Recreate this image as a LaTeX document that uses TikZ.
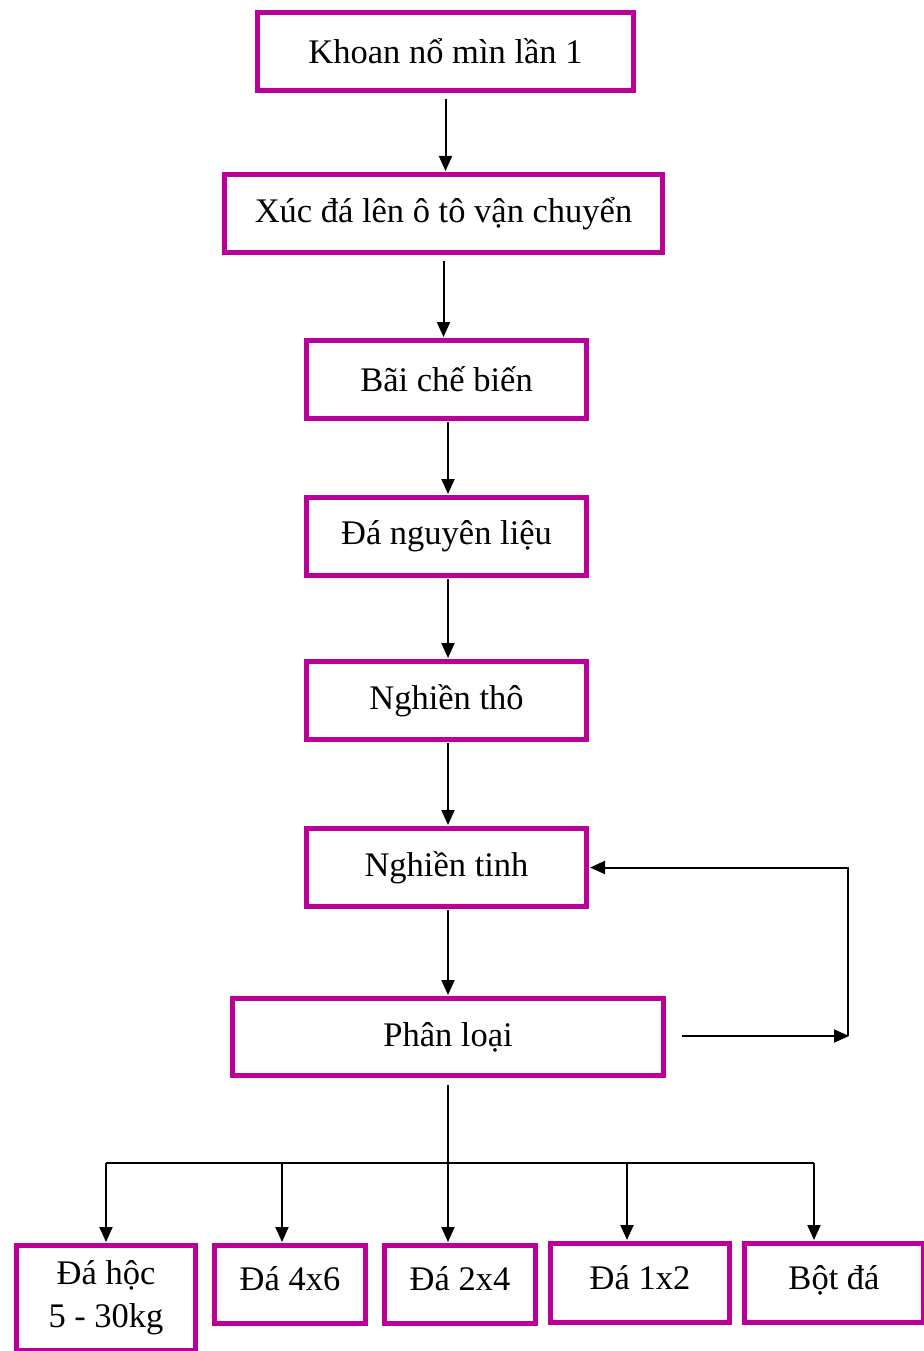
\documentclass[tikz,border=0pt]{standalone}
\usepackage{fontspec}
\setmainfont{Liberation Serif}
\usetikzlibrary{arrows.meta}
\definecolor{boxpurple}{RGB}{187,0,153}
\tikzstyle{stage}=[draw=boxpurple,line width=5pt,inner sep=0pt,align=center,font=\fontsize{34.5}{43}\selectfont]
\tikzstyle{flow}=[line width=2pt,shorten >=1pt,-{Triangle[length=15pt,width=13pt]}]

\begin{document}
\begin{tikzpicture}[x=1pt,y=-1pt]
    \useasboundingbox (0,0) rectangle (923,1351);
    \tikzstyle{nstage}=[stage,minimum width=280pt,minimum height=78pt]
    \tikzstyle{pstage}=[stage,minimum width=151pt,minimum height=78pt,text depth=12pt]

    \node[stage,minimum width=376pt,minimum height=78pt] (s0) at (445.5,51.5) {Khoan nổ mìn lần 1};
    \node[stage,minimum width=438pt,minimum height=78pt] (s1) at (443.5,213.5) {Xúc đá lên ô tô vận chuyển};
    \node[nstage] (s2) at (446.5,379.5) {Bãi chế biến};
    \node[nstage] (s3) at (446.5,536.5) {Đá nguyên liệu};
    \node[nstage] (s4) at (446.5,700.5) {Nghiền thô};
    \node[nstage] (s5) at (446.5,867.5) {Nghiền tinh};
    \node[stage,minimum width=431pt,minimum height=77pt] (s6) at (448,1037) {Phân loại};

    \node[stage,minimum width=179pt,minimum height=105pt] (p0) at (106,1298) {Đá hộc\\5 - 30kg};
    \node[pstage] (p1) at (290,1284.5) {Đá 4x6};
    \node[pstage] (p2) at (460,1284.5) {Đá 2x4};
    \node[pstage,minimum width=179pt,minimum height=79pt] (p3) at (640,1283) {Đá 1x2};
    \node[pstage,minimum width=179pt,minimum height=79pt] (p4) at (834,1283) {Bột đá};

    % main line
    \draw[flow] ([yshift=-6pt]s0.south) -- (s0.south |- s1.north);
    \draw[flow] ([yshift=-6pt]s1.south) -- (s1.south |- s2.north);
    \foreach \i/\j in {2/3,3/4,4/5,5/6}
        \draw[flow] ([xshift=1.5pt,yshift=-1pt]s\i.south) -- ([xshift=1.5pt]s\i.south |- s\j.north);

    % back to Nghien tinh
    \coordinate (fb) at (850,1036);
    \draw[flow] ([xshift=16pt]s6.east |- fb) -- (fb);
    \draw[flow] ([xshift=-2pt]fb) |- (s5.east);

    % products
    \coordinate (bus) at (448,1163);
    \draw[line width=2pt] (106,1163) -- (814,1163);
    \draw[flow] ([yshift=-7pt]s6.south) -- (s6.south |- p2.north);
    \foreach \i/\x in {0/106,1/282,3/627,4/814} {
        \coordinate (b\i) at (\x,1163);
        \draw[flow] (b\i) -- (b\i |- p\i.north);
    }
\end{tikzpicture}
\end{document}
